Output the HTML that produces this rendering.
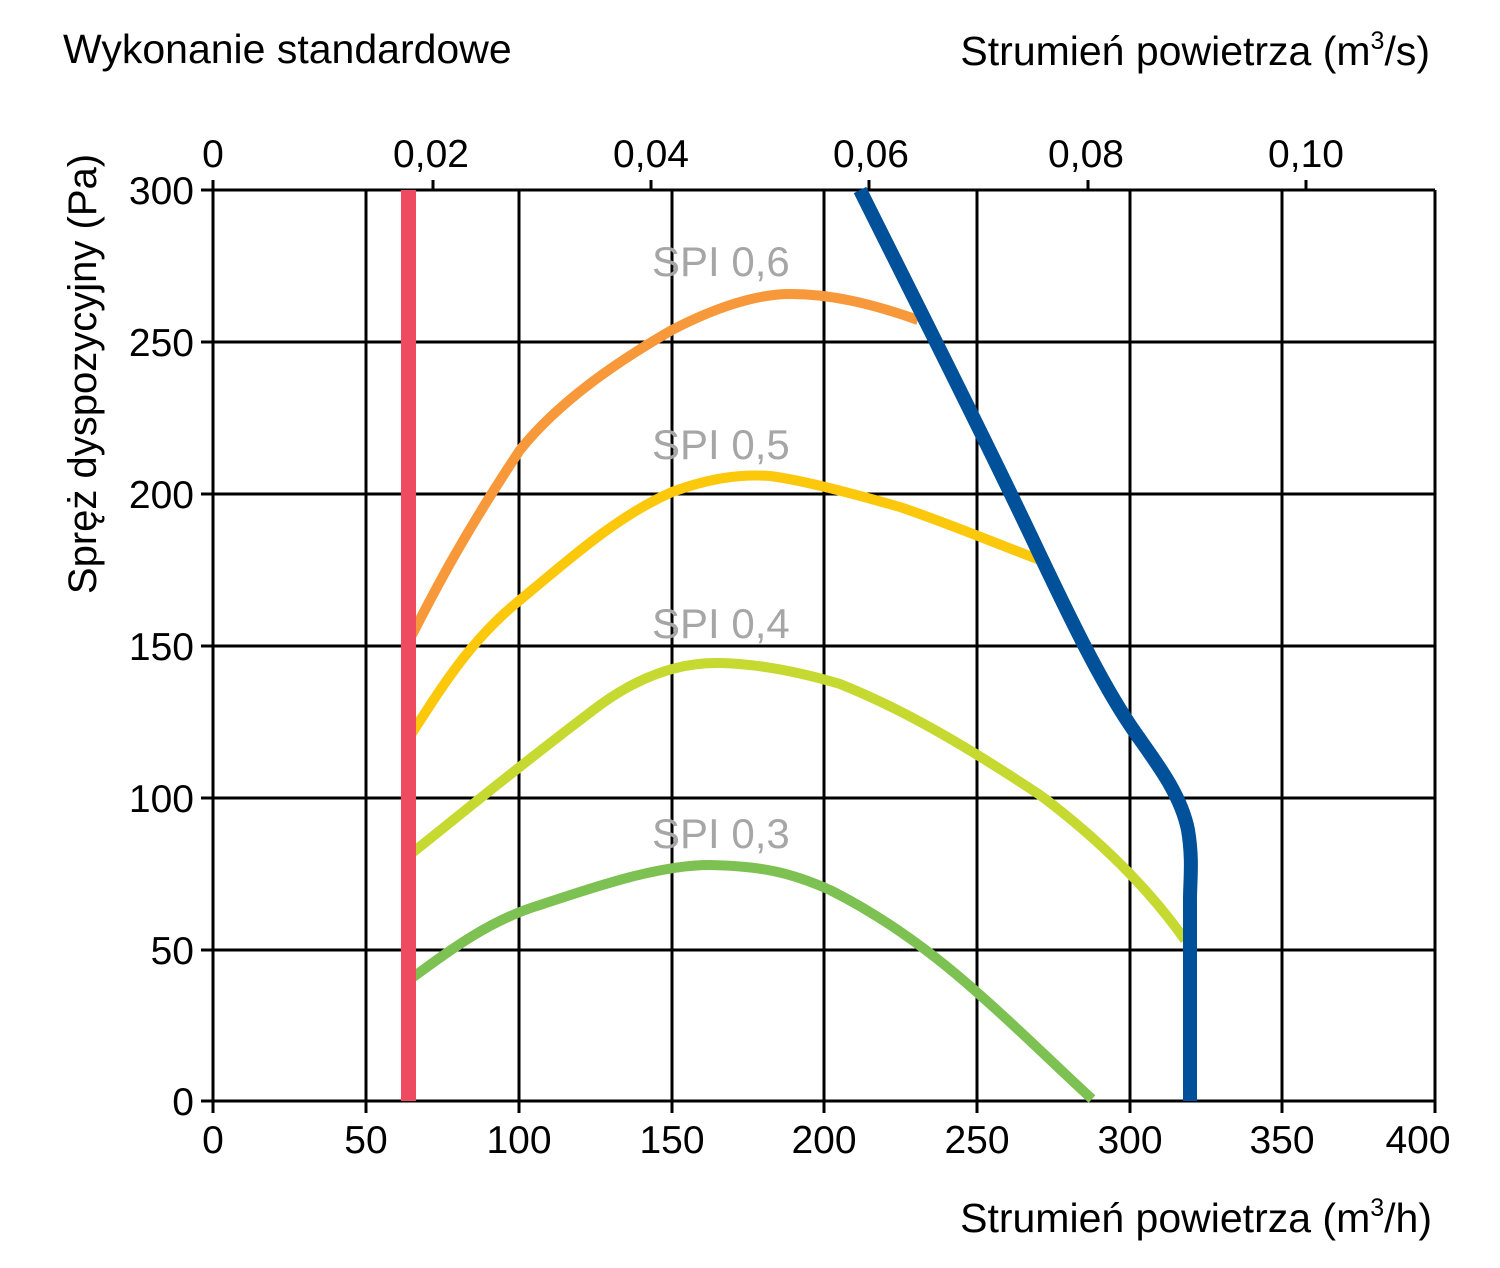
<!DOCTYPE html>
<html><head><meta charset="utf-8"><style>
html,body{margin:0;padding:0;background:#fff}
svg{display:block}
text{font-family:"Liberation Sans",sans-serif}
</style></head><body>
<svg width="1500" height="1268" viewBox="0 0 1500 1268" xmlns="http://www.w3.org/2000/svg">
<g stroke="#000" stroke-width="3">
<line x1="213" y1="190" x2="213" y2="1113"/>
<line x1="366" y1="190" x2="366" y2="1113"/>
<line x1="519" y1="190" x2="519" y2="1113"/>
<line x1="672" y1="190" x2="672" y2="1113"/>
<line x1="824" y1="190" x2="824" y2="1113"/>
<line x1="977" y1="190" x2="977" y2="1113"/>
<line x1="1130" y1="190" x2="1130" y2="1113"/>
<line x1="1282" y1="190" x2="1282" y2="1113"/>
<line x1="1435" y1="190" x2="1435" y2="1113"/>
<line x1="201" y1="190" x2="1435" y2="190"/>
<line x1="201" y1="342" x2="1435" y2="342"/>
<line x1="201" y1="494" x2="1435" y2="494"/>
<line x1="201" y1="646" x2="1435" y2="646"/>
<line x1="201" y1="798" x2="1435" y2="798"/>
<line x1="201" y1="950" x2="1435" y2="950"/>
<line x1="201" y1="1101" x2="1435" y2="1101"/>
<line x1="213" y1="180" x2="213" y2="190"/>
<line x1="433" y1="180" x2="433" y2="190"/>
<line x1="651" y1="180" x2="651" y2="190"/>
<line x1="869" y1="180" x2="869" y2="190"/>
<line x1="1088" y1="180" x2="1088" y2="190"/>
<line x1="1306" y1="180" x2="1306" y2="190"/>
</g>
<g fill="none" stroke-linecap="butt" stroke-linejoin="round">
<path d="M412,635 C430,600 460,540 520,450 C560,400 620,360 672,330 C720,305 760,294 790,294 C830,294 870,303 918,320" stroke="#f7993a" stroke-width="10"/>
<path d="M412,733 C440,690 470,640 520,600 C580,550 620,515 672,492 C710,478 740,474 770,476 C800,480 840,490 900,507 C950,524 1000,545 1040,560" stroke="#fcc80b" stroke-width="10"/>
<path d="M412,853 C460,815 520,765 600,705 C640,676 680,662 720,663 C760,664 800,672 840,684 C900,708 960,742 1040,795 C1100,840 1150,890 1185,940" stroke="#c5d930" stroke-width="10"/>
<path d="M412,978 C450,950 490,920 540,905 C600,885 660,865 710,865 C760,866 790,872 830,890 C880,915 930,950 980,995 C1020,1030 1060,1070 1092,1099" stroke="#7dc152" stroke-width="10"/>
<path d="M860,190 L920,310 C950,370 1000,470 1040,555 C1070,618 1100,680 1130,725 C1150,755 1180,790 1188,830 C1193,860 1190,880 1190,900 L1190,1101" stroke="#00509a" stroke-width="14"/>
</g>
<rect x="401" y="190" width="15" height="911" fill="#ef4b60"/>
<g font-size="42" fill="#a6a6a6">
<text x="652" y="276">SPI 0,6</text>
<text x="652" y="459">SPI 0,5</text>
<text x="652" y="638">SPI 0,4</text>
<text x="652" y="848">SPI 0,3</text>
</g>
<g font-size="39" fill="#000" text-anchor="end">
<text x="194" y="204">300</text>
<text x="194" y="356">250</text>
<text x="194" y="508">200</text>
<text x="194" y="660">150</text>
<text x="194" y="812">100</text>
<text x="194" y="964">50</text>
<text x="194" y="1115">0</text>
</g>
<g font-size="39" fill="#000" text-anchor="middle">
<text x="213" y="1153">0</text>
<text x="366" y="1153">50</text>
<text x="519" y="1153">100</text>
<text x="672" y="1153">150</text>
<text x="824" y="1153">200</text>
<text x="977" y="1153">250</text>
<text x="1130" y="1153">300</text>
<text x="1282" y="1153">350</text>
<text x="1418" y="1153">400</text>
<text x="213" y="167">0</text>
<text x="431" y="167">0,02</text>
<text x="651" y="167">0,04</text>
<text x="871" y="167">0,06</text>
<text x="1086" y="167">0,08</text>
<text x="1306" y="167">0,10</text>
</g>
<g font-size="41" fill="#000">
<text x="63" y="63">Wykonanie standardowe</text>
<text x="1430" y="65" text-anchor="end">Strumień powietrza (m<tspan font-size="25" dy="-16">3</tspan><tspan dy="16">/s)</tspan></text>
<text x="1432" y="1232" text-anchor="end">Strumień powietrza (m<tspan font-size="25" dy="-16">3</tspan><tspan dy="16">/h)</tspan></text>
<text transform="translate(96,374) rotate(-90)" text-anchor="middle" font-size="40">Spręż dyspozycyjny (Pa)</text>
</g>
</svg>
</body></html>
